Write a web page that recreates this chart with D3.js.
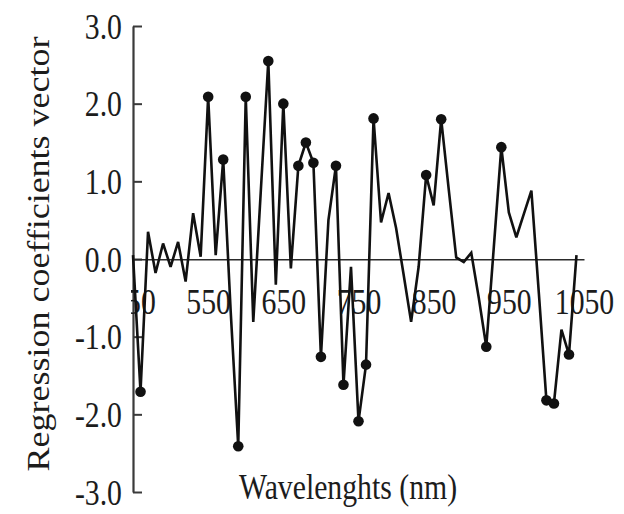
<!DOCTYPE html>
<html>
<head>
<meta charset="utf-8">
<script src="https://cdn.jsdelivr.net/npm/d3@7"></script>
<style>
  html, body { margin: 0; padding: 0; background: #fff; }
  svg { display: block; }
</style>
</head>
<body>
<script>
// ---- data ----
const wavelengths = [450,460,470,480,490,500,510,520,530,540,
  550,560,570,580,590,600,610,620,630,640,
  650,660,670,680,690,700,710,720,730,740,
  750,760,770,780,790,800,810,820,830,840,
  850,860,870,880,890,900,910,920,930,940,
  950,960,970,980,990,1000,1010,1020,1030,1040];
const coefficients = [0.05,-1.71,0.35,-0.18,0.20,-0.10,0.22,-0.29,0.59,0.03,
  2.09,0.05,1.28,-0.68,-2.41,2.09,-0.81,0.87,2.55,-0.33,
  2.00,-0.12,1.20,1.50,1.24,-1.26,0.50,1.20,-1.62,-0.10,
  -2.09,-1.36,1.81,0.47,0.85,0.40,-0.20,-0.81,-0.10,1.08,
  0.69,1.80,0.90,0.02,-0.04,0.08,-0.50,-1.13,0.15,1.44,
  0.60,0.28,0.58,0.88,-0.45,-1.82,-1.86,-0.91,-1.23,0.05];
const selectedWavelengths = [460,550,570,590,600,630,650,670,680,690,700,720,730,750,760,770,840,860,920,940,1000,1010,1030];
const xTicks = [450,550,650,750,850,950,1050];
const xTickLabels = ["450","550","650","750","850","950","1050"];
const yTicks = [-3,-2,-1,0,1,2,3];
const yTickLabels = ["-3.0","-2.0","-1.0","0.0","1.0","2.0","3.0"];
const xTitle = "Wavelenghts (nm)";
const yTitle = "Regression coefficients vector";

// ---- layout ----
const W = 624, H = 514;
const FS = 35, SX = 0.85;
const FONT = "'Liberation Serif','Times New Roman',Times,serif";
const INK = "#1c1c1c";

const svg = d3.select("body").append("svg").attr("width", W).attr("height", H);
svg.append("rect").attr("width", W).attr("height", H).attr("fill", "#fff");

const x = d3.scaleLinear().domain([450, 1050]).range([133, 584]);
const y = d3.scaleLinear().domain([-3, 3]).range([492, 26]);

svg.append("clipPath").attr("id", "clipX")
  .append("rect").attr("x", 131).attr("y", 0).attr("width", W).attr("height", H);

// y axis
const gy = svg.append("g").attr("transform", `translate(${x(450)},0)`)
  .call(d3.axisLeft(y).tickValues(yTicks)
    .tickFormat((d, i) => yTickLabels[i])
    .tickSizeInner(-9).tickSizeOuter(0));
gy.attr("font-family", FONT).attr("font-size", FS);
gy.select(".domain").attr("stroke", "#3a3a3a").attr("stroke-width", 2.2);
gy.selectAll(".tick line").attr("stroke", "#3a3a3a").attr("stroke-width", 2);
gy.selectAll(".tick text")
  .attr("x", 0).attr("y", 0).attr("dy", null)
  .attr("text-anchor", "end").attr("fill", INK)
  .attr("transform", `translate(-11,12) scale(${SX},1)`);

// x axis at y = 0
const gx = svg.append("g").attr("transform", `translate(0,${y(0)})`)
  .call(d3.axisBottom(x).tickValues(xTicks)
    .tickFormat((d, i) => xTickLabels[i])
    .tickSizeInner(-7).tickSizeOuter(0));
gx.attr("font-family", FONT).attr("font-size", FS);
gx.select(".domain").attr("stroke", "#2a2a2a").attr("stroke-width", 2);
gx.selectAll(".tick line").attr("stroke", "#2a2a2a").attr("stroke-width", 1.6);
gx.selectAll(".tick text")
  .attr("x", 0).attr("y", 0).attr("dy", null)
  .attr("text-anchor", "middle").attr("fill", INK)
  .attr("transform", `translate(0,55) scale(${SX},1)`);
gx.attr("clip-path", "url(#clipX)");

// series
const data = wavelengths.map((w, i) => ({ wl: w, v: coefficients[i] }));
const line = d3.line().x(d => x(d.wl)).y(d => y(d.v));
svg.append("path").datum(data)
  .attr("d", line)
  .attr("fill", "none")
  .attr("stroke", "#111")
  .attr("stroke-width", 2.6)
  .attr("stroke-linejoin", "miter")
  .attr("stroke-miterlimit", 3);

svg.append("g").selectAll("circle")
  .data(data.filter(d => selectedWavelengths.includes(d.wl)))
  .join("circle")
  .attr("cx", d => x(d.wl)).attr("cy", d => y(d.v))
  .attr("r", 5.3).attr("fill", "#111");

// titles
svg.append("text").text(xTitle)
  .attr("font-family", FONT).attr("font-size", FS).attr("fill", INK)
  .attr("text-anchor", "middle")
  .attr("transform", `translate(348,499) scale(${SX},1)`);

svg.append("text").text(yTitle)
  .attr("font-family", FONT).attr("font-size", 36).attr("fill", INK)
  .attr("text-anchor", "middle")
  .attr("transform", `translate(49,254) scale(${SX},1) rotate(-90)`);
</script>
</body>
</html>
